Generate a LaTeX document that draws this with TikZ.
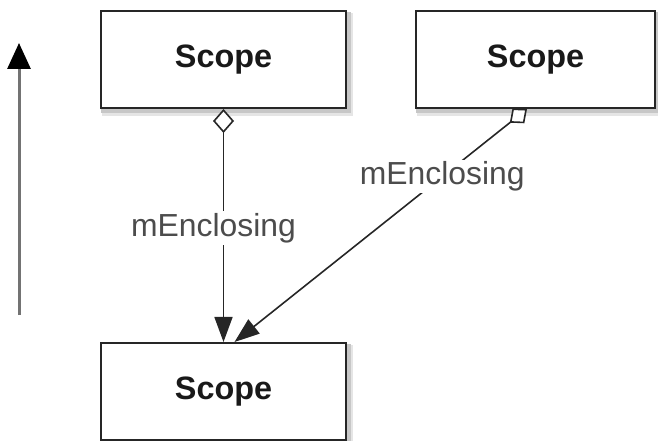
\documentclass[tikz,border=0pt]{standalone}
\usepackage{fontspec}
\setmainfont{Liberation Sans}
\usetikzlibrary{arrows.meta,calc,backgrounds}
\begin{document}
\begin{tikzpicture}[x=1bp,y=-1bp,
  scopebox/.style={draw=black!85, line width=2bp, fill=white, inner sep=0pt,
    minimum height=97bp, font=\fontsize{32.5}{36}\selectfont\bfseries, text=black!90},
  shadowA/.style={fill=black!10},
  shadowB/.style={fill=black!22},
  conn/.style={draw=black!85, line width=1.6bp},
  lbl/.style={fill=white, inner sep=2bp, font=\fontsize{32}{36}\selectfont, text=black!70}]
\useasboundingbox (0,0) rectangle (658,441);
\node[scopebox, minimum width=245bp] (A) at (223.5,59.5) {Scope};
\node[scopebox, minimum width=239bp] (B) at (535.5,59.5) {Scope};
\node[scopebox, minimum width=245bp] (C) at (223.5,391.5) {Scope};
\begin{scope}[on background layer]
  \foreach \n in {A,B,C}{
    \fill[shadowA] ($(\n.north west)+(2,3)$) rectangle ($(\n.south east)+(6,7)$);
    \fill[shadowB] ($(\n.north west)+(1,2)$) rectangle ($(\n.south east)+(3.5,4.5)$);
  }
\end{scope}
\coordinate (bs) at ($(B.south)+(-8.5,0)$);
\coordinate (ce) at ($(C.north)+(11,0)$);
\draw[conn, {Diamond[open,fill=white,width=21bp,length=24bp]}-{Triangle[width=18bp,length=25bp]}] (A.south) -- (C.north)
  node[lbl, pos=0.51, xshift=-10bp] {mEnclosing};
\draw[conn, {Diamond[open,fill=white,width=19bp,length=22bp]}-{Triangle[width=18bp,length=25bp]}] (bs) -- (ce)
  node[lbl, pos=0.29] {mEnclosing};
\coordinate (l0) at (19,315);
\coordinate (l1) at (19,43);
\draw[draw=black!55, line width=3bp, -{Triangle[width=23bp,length=26bp,color=black]}] (l0) -- (l1);
\end{tikzpicture}
\end{document}
